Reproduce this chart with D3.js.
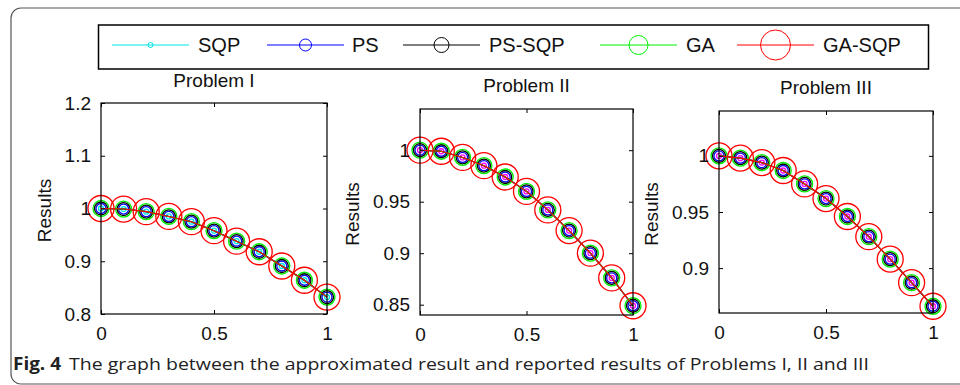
<!DOCTYPE html>
<html>
<head>
<meta charset="utf-8">
<script src="https://cdn.jsdelivr.net/npm/d3@7"></script>
<style>
  body { margin: 0; background: #fff; }
  svg { display: block; }
  .tick-text { font-family: 'Liberation Sans', Arial, sans-serif; font-size: 19px; fill: #111; }
  .title { font-family: 'Liberation Sans', Arial, sans-serif; font-size: 19px; fill: #111; }
  .legend-text { font-family: 'Liberation Sans', Arial, sans-serif; font-size: 20px; fill: #111; }
  .caption { font-family: 'Open Sans', sans-serif; font-size: 17px; fill: #222; }
</style>
</head>
<body>
<div id="chart"></div>
<script>
// x positions shared by all three problems
const xValues = [0, 0.1, 0.2, 0.3, 0.4, 0.5, 0.6, 0.7, 0.8, 0.9, 1];

// results (all methods overlap)
const problem1 = [1.0, 0.999, 0.994, 0.985, 0.975, 0.958, 0.938, 0.918, 0.891, 0.864, 0.832];
const problem2 = [1.0, 0.999, 0.993, 0.985, 0.974, 0.960, 0.942, 0.922, 0.900, 0.876, 0.849];
const problem3 = [1.0, 0.998, 0.994, 0.987, 0.975, 0.962, 0.946, 0.928, 0.908, 0.887, 0.866];

const titles = ['Problem I', 'Problem II', 'Problem III'];
const yDomains = [[0.8, 1.2], [0.84, 1.04], [0.86, 1.04]];
const yTicks = [[0.8, 0.9, 1, 1.1, 1.2], [0.85, 0.9, 0.95, 1], [0.9, 0.95, 1]];
const xTicks = [0, 0.5, 1];

const methods = ['SQP', 'PS', 'PS-SQP', 'GA', 'GA-SQP'];
const methodColors = ['#00e5e5', '#0000ff', '#000000', '#00ee00', '#ff0000'];

const width = 960, height = 385;
const svg = d3.select('#chart').append('svg')
  .attr('width', width)
  .attr('height', height);

// outer figure frame
svg.append('rect')
  .attr('x', 11).attr('y', 8)
  .attr('width', 1000).attr('height', 376)
  .attr('rx', 10)
  .attr('fill', 'none')
  .attr('stroke', '#555')
  .attr('stroke-width', 1.2);

// panel boxes (pixel frames of each axes)
const panels = [
  { x0: 101, x1: 327, y0: 103, y1: 314, data: problem1, inner: '#00e5e5', labelX: 45, titleY: 87 },
  { x0: 420, x1: 633, y0: 109, y1: 315, data: problem2, inner: '#ff00ff', labelX: 353, titleY: 92 },
  { x0: 719, x1: 933, y0: 111, y1: 313, data: problem3, inner: '#ff00ff', labelX: 652, titleY: 94 }
];

const markerR = [2.5, 5, 6.5, 8, 13];
const legendR = [2.5, 6, 7.5, 9.5, 15];

const fmt = v => (v === 1 ? '1' : String(v));

panels.forEach((p, i) => {
  const x = d3.scaleLinear().domain([0, 1]).range([p.x0, p.x1]);
  const y = d3.scaleLinear().domain(yDomains[i]).range([p.y1, p.y0]);
  const g = svg.append('g');

  // series: line + open circle markers, plotted in legend order
  methods.forEach((m, k) => {
    const color = k === 0 ? p.inner : methodColors[k];
    const line = d3.line()
      .x((d, j) => x(xValues[j]))
      .y(d => y(d));
    g.append('path')
      .datum(p.data)
      .attr('d', line)
      .attr('fill', 'none')
      .attr('stroke', color)
      .attr('stroke-width', 1.1);
    g.selectAll(null)
      .data(p.data)
      .enter().append('circle')
      .attr('cx', (d, j) => x(xValues[j]))
      .attr('cy', d => y(d))
      .attr('r', markerR[k])
      .attr('fill', 'none')
      .attr('stroke', color)
      .attr('stroke-width', 1.3);
  });

  // box
  g.append('rect')
    .attr('x', p.x0).attr('y', p.y0)
    .attr('width', p.x1 - p.x0).attr('height', p.y1 - p.y0)
    .attr('fill', 'none')
    .attr('stroke', '#000')
    .attr('stroke-width', 1.2);

  // inward ticks on all four sides
  const tl = 4;
  g.append('g')
    .attr('transform', `translate(0,${p.y1})`)
    .call(d3.axisBottom(x).tickValues(xTicks).tickSizeInner(-tl).tickSizeOuter(0).tickPadding(13).tickFormat(fmt))
    .call(s => s.select('.domain').remove())
    .call(s => s.selectAll('text').attr('class', 'tick-text').attr('font-size', null).attr('font-family', null));
  g.append('g')
    .attr('transform', `translate(0,${p.y0})`)
    .call(d3.axisTop(x).tickValues(xTicks).tickSizeInner(-tl).tickSizeOuter(0).tickFormat(''))
    .call(s => s.select('.domain').remove());
  g.append('g')
    .attr('transform', `translate(${p.x0},0)`)
    .call(d3.axisLeft(y).tickValues(yTicks[i]).tickSizeInner(-tl).tickSizeOuter(0).tickPadding(10).tickFormat(fmt))
    .call(s => s.select('.domain').remove())
    .call(s => s.selectAll('text').attr('class', 'tick-text').attr('font-size', null).attr('font-family', null));
  g.append('g')
    .attr('transform', `translate(${p.x1},0)`)
    .call(d3.axisRight(y).tickValues(yTicks[i]).tickSizeInner(-tl).tickSizeOuter(0).tickFormat(''))
    .call(s => s.select('.domain').remove());
  g.selectAll('.tick line').attr('stroke', '#000');

  // title
  g.append('text')
    .attr('class', 'title')
    .attr('x', (p.x0 + p.x1) / 2)
    .attr('y', p.titleY)
    .attr('text-anchor', 'middle')
    .text(titles[i]);

  // y label
  g.append('text')
    .attr('class', 'title')
    .attr('transform', `translate(${p.labelX + 6},${(p.y0 + p.y1) / 2 + 2}) rotate(-90)`)
    .attr('text-anchor', 'middle')
    .text('Results');
});

// legend
const legend = svg.append('g');
legend.append('rect')
  .attr('x', 98.5).attr('y', 25)
  .attr('width', 830).attr('height', 44)
  .attr('fill', '#fff')
  .attr('stroke', '#000')
  .attr('stroke-width', 1.5);

const legendLineX = [112, 267, 403, 600, 737];
const legendTextX = [198, 352, 489, 686, 823];
const legendY = 45;
methods.forEach((m, k) => {
  const lx = legendLineX[k];
  legend.append('line')
    .attr('x1', lx).attr('x2', lx + 77)
    .attr('y1', legendY).attr('y2', legendY)
    .attr('stroke', methodColors[k])
    .attr('stroke-width', 1);
  legend.append('circle')
    .attr('cx', lx + 38.5).attr('cy', legendY)
    .attr('r', legendR[k])
    .attr('fill', 'none')
    .attr('stroke', methodColors[k])
    .attr('stroke-width', 1);
  legend.append('text')
    .attr('class', 'legend-text')
    .attr('x', legendTextX[k])
    .attr('y', legendY + 7)
    .text(m);
});

// caption
svg.append('text')
  .attr('class', 'caption')
  .attr('x', 13)
  .attr('y', 370)
  .attr('font-weight', 'bold')
  .attr('fill', '#1f2f4a')
  .attr('textLength', 48)
  .attr('lengthAdjust', 'spacingAndGlyphs')
  .text('Fig. 4');
svg.append('text')
  .attr('class', 'caption')
  .attr('x', 69)
  .attr('y', 370)
  .attr('textLength', 800)
  .attr('lengthAdjust', 'spacingAndGlyphs')
  .text('The graph between the approximated result and reported results of Problems I, II and III');
</script>
</body>
</html>
